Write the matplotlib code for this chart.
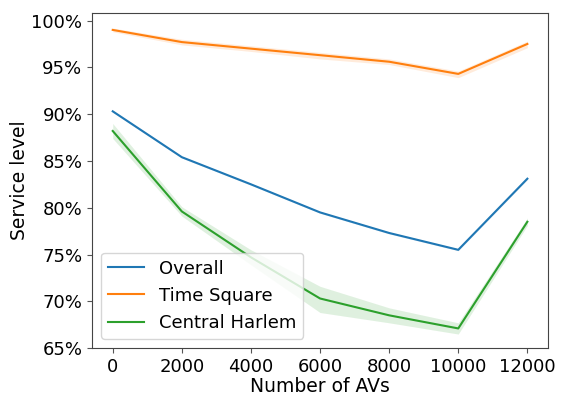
import matplotlib
matplotlib.use("Agg")
import matplotlib.pyplot as plt
from matplotlib.ticker import PercentFormatter

num_avs = [0, 2000, 4000, 6000, 8000, 10000, 12000]

overall = [90.3, 85.4, 82.5, 79.5, 77.3, 75.5, 83.1]
overall_lo = [90.2, 85.3, 82.4, 79.4, 77.2, 75.4, 83.0]
overall_hi = [90.4, 85.5, 82.6, 79.6, 77.4, 75.6, 83.2]

time_square = [99.0, 97.7, 97.0, 96.3, 95.6, 94.3, 97.5]
time_square_lo = [98.8, 97.4, 96.7, 95.9, 95.3, 93.9, 97.1]
time_square_hi = [99.2, 98.0, 97.3, 96.6, 95.9, 94.6, 97.8]

central_harlem = [88.2, 79.6, 74.7, 70.3, 68.5, 67.1, 78.5]
central_harlem_lo = [87.4, 79.1, 73.9, 68.8, 67.7, 66.5, 78.1]
central_harlem_hi = [89.0, 80.1, 75.5, 71.6, 69.3, 67.7, 78.9]

series = [
    ("Overall", overall, overall_lo, overall_hi, "#1f77b4"),
    ("Time Square", time_square, time_square_lo, time_square_hi, "#ff7f0e"),
    ("Central Harlem", central_harlem, central_harlem_lo, central_harlem_hi, "#2ca02c"),
]

fig = plt.figure(figsize=(5.61, 3.96), dpi=100)
ax = fig.add_axes([0.164, 0.121, 0.813, 0.846])

for name, vals, lo, hi, color in series:
    ax.plot(num_avs, vals, color=color, lw=1.5, label=name)
    ax.fill_between(num_avs, lo, hi, color=color, alpha=0.15, lw=0)

ax.set_xlim(-600, 12600)
ax.set_ylim(65, 100.8)
ax.set_xticks(num_avs)
ax.set_yticks([65, 70, 75, 80, 85, 90, 95, 100])
ax.yaxis.set_major_formatter(PercentFormatter(decimals=0))
ax.tick_params(labelsize=13, color="#555555")
ax.set_xlabel("Number of AVs", fontsize=13.5, labelpad=1)
ax.set_ylabel("Service level", fontsize=13.5, labelpad=2)
for sp in ax.spines.values():
    sp.set_color("#444444")

ax.legend(loc="lower left", fontsize=13, handlelength=2.0)

fig.savefig("out.png", dpi=100)
